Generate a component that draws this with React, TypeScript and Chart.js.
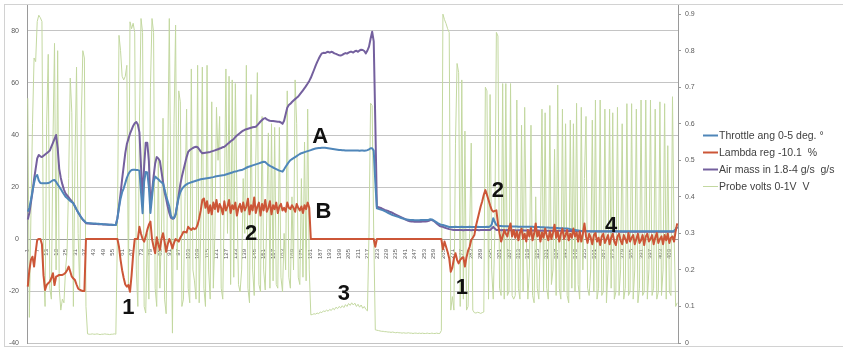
import { useEffect, useRef } from "react";
import { Chart, registerables } from "chart.js";

Chart.register(...registerables);

// ---- Series values (sample index 1..414) ----
const throttle = [
  10.5, 12, 15, 18.5, 21.5, 24, 24.6, 22.5, 21.5, 21.4,
  21.4, 21.4, 21.4, 21.5, 21.8, 22.2, 22.6, 22.7, 22, 21,
  20.1, 19.2, 18.2, 17.2, 16.3, 15.8, 15.2, 14.6, 14.2, 13.7,
  12.6, 11.4, 10.3, 9.3, 8.3, 7.5, 6.9, 6.3, 6.2, 6.1,
  6.1, 6, 6, 6, 5.9, 5.9, 5.8, 5.8, 5.7, 5.7,
  5.6, 5.6, 5.5, 5.5, 5.5, 5.4, 5.4, 8, 12, 15.5,
  18, 19.5, 21.5, 23.5, 25, 26, 26.5, 26.6, 26.6, 26.5,
  26.5, 26.3, 18, 9.9, 22, 25.8, 25.6, 20, 10, 16,
  22, 24, 23.5, 23, 22.3, 21.8, 21.4, 19, 16.5, 14.5,
  12.5, 9, 8, 8, 9.5, 13, 16, 18, 19.2, 20,
  20.6, 21, 21.4, 21.6, 21.8, 22, 22.2, 22.4, 22.6, 22.8,
  23, 23.1, 23.2, 23.3, 23.4, 23.5, 23.6, 23.7, 23.8, 24,
  24.1, 24.2, 24.3, 24.4, 24.5, 24.6, 24.8, 25, 25.2, 25.4,
  25.6, 25.8, 26, 26.1, 26.3, 26.4, 26.5, 26.8, 27.1, 27.4,
  27.7, 27.9, 28.1, 28.3, 28.5, 28.7, 28.9, 29.1, 29.3, 29.5,
  29.7, 29.6, 29, 28.5, 28.1, 27.8, 27.5, 27.2, 26.9, 26.6,
  26.3, 26.1, 25.9, 26.8, 27.8, 28.7, 29.6, 30.3, 30.7, 31.1,
  31.5, 31.9, 32.3, 32.7, 33, 33.2, 33.4, 33.6, 33.8, 34,
  34.2, 34.4, 34.6, 34.8, 34.9, 35, 35, 35.1, 35.1, 35.1,
  35, 34.9, 34.8, 34.7, 34.6, 34.5, 34.4, 34.3, 34.2, 34.2,
  34.1, 34.1, 34, 34, 34, 34, 34, 34, 34, 34,
  34, 33.9, 34, 34, 33.9, 34, 34.2, 34.5, 34.9, 34.9,
  34, 22, 11.8, 11.6, 11.4, 11.2, 11, 10.7, 10.4, 10.1,
  9.8, 9.5, 9.2, 9, 8.8, 8.6, 8.4, 8.2, 8, 7.8,
  7.6, 7.5, 7.4, 7.3, 7.3, 7.3, 7.2, 7.2, 7.2, 7.2,
  7.3, 7.3, 7.3, 7.3, 7.3, 7.4, 7.6, 7.5, 7.2, 6.8,
  6.4, 6, 5.7, 5.5, 5.4, 5.2, 5, 4.8, 4.6, 4.6,
  4.6, 4.6, 4.7, 4.6, 4.6, 4.6, 4.7, 4.6, 4.6, 4.6,
  4.6, 4.7, 4.6, 4.6, 4.6, 4.6, 4.7, 4.6, 4.6, 4.6,
  4.6, 4.6, 4.7, 4.6, 4.8, 5.5, 8, 6.5, 5.4, 5.1,
  5, 5, 4.9, 4.9, 4.9, 4.9, 4.8, 4.8, 4.8, 4.8,
  4.8, 4.8, 4.7, 4.7, 4.7, 4.7, 4.7, 4.7, 4.7, 4.7,
  4.7, 4.7, 4.6, 4.6, 4.6, 4.6, 4.5, 4.5, 4.5, 4.4,
  4.4, 4.4, 4.3, 4.3, 4.3, 4.2, 4.2, 4.2, 4.1, 4.1,
  4.1, 4, 4, 4, 3.9, 3.8, 3.7, 3.6, 3.5, 3.4,
  3.3, 3.2, 3.1, 3.1, 3.1, 3.1, 3, 3, 3, 3,
  3, 3, 3, 3, 3, 3, 3, 3, 3, 3,
  3, 3, 3, 3, 3, 3, 3, 3, 3, 3,
  3, 3, 3, 3, 3, 3, 3, 3, 3, 3,
  3, 3, 3, 3, 3, 3, 3, 3, 3, 3,
  3, 3, 3, 3, 3, 3, 3, 3, 3, 3,
  3, 3.1, 3.8, 4.7,
];

const lambda = [
  -18.3, -12, -8, -6.8, -10.6, -5, -0.3, 0, 0, -2,
  -14, -19.6, -17.7, -17, -16.4, -15, -13.2, -17.7, -14.5, -14.2,
  -13.8, -13.8, -13.8, -13.5, -13, -12, -10.6, -12.5, -14.5, -15.2,
  -15.8, -17.5, -19, -19.5, -19.8, -20, -20, 0, 0, 0,
  0, 0, 0, 0, 0, 0, 0, 0, 0, 0,
  0, 0, 0, 0, 0, 0, 0, 0, -3, -8,
  -12, -15, -17.5, -18.3, -17.7, -20.3, -14, -6, 0, 0,
  0, 4.7, 2, 0, -1, 1, 3.5, 5.5, 6.7, 0,
  -3, -5.5, 0.7, -2, -4.2, 0, 2.2, -1, -4.9, -2,
  0, -1.5, -3.6, -1.5, 0, -0.5, -1, 0.5, 1.5, 2.8,
  2.7, 2.5, 4.7, 4, 3.5, 4.2, 3.8, 4.1, 5.5, 8,
  11, 15, 15.6, 12, 14.5, 10, 13, 9.5, 14, 11.5,
  15, 10.5, 13.5, 12, 9.5, 14.5, 11, 12.5, 15, 10,
  13, 11.5, 14, 9, 12, 13.5, 10.5, 14, 11, 12.5,
  15.5, 9.5, 13, 11, 16, 10, 12.5, 14, 9, 13.5,
  11, 15, 10.5, 12, 14.5, 9.5, 13, 11.5, 14, 10,
  12.5, 13.5, 11, 12, 10.5, 14, 12, 11.5, 13, 12,
  10.5, 13.5, 12, 11, 12.5, 10, 13, 11.5, 14, 12,
  0, 0, 0, 0, 0, 0, 0, 0, 0, 0,
  0, 0, 0, 0, 0, 0, 0, 0, 0, 0,
  0, 0, 0, 0, 0, 0, 0, 0, 0, 0,
  0, 0, 0, 0, 0, 0, 0, 0, 0, 0,
  0, -3, 0, 0, 0, 0, 0, 0, 0, 0,
  0, 0, 0, 0, 0, 0, 0, 0, 0, 0,
  0, 0, 0, 0, 0, 0, 0, 0, 0, 0,
  0, 0, 0, 0, 0, 0, 0, 0, 0, 0,
  0, 0, 0, 0, -4, -1, -3, -5, -7.4, -12.6,
  -11, -7.5, -5.5, -8, -9.4, -8, -7.4, -7, -10.6, -7,
  -4.5, -3, -0.4, 0.5, 1.5, 5, 7.5, 10, 12.5, 14.5,
  17, 18.8, 17, 15, 13, 11.2, 10.5, 10.8, 11, 6,
  2.2, -1, 1, 3.5, 2, 1, 4, 6, 1, 3.5,
  0.5, 3, -0.5, 2.5, 4, 0, 2, -1, 3.5, 1,
  4.2, -0.5, 2, 6, 1, 3, -1, 2.5, 0.5, 4,
  1.5, -0.5, 3, 0, 2.5, 5.5, 0.5, 3, -1, 2,
  4, 0, 1.5, 3.5, -0.5, 2, 0.5, 4, 1, 2.5,
  -1, 3, -1, 2, 6, 1, -1.5, 2, 0.5, -2,
  1.5, 2.3, -1, 0.5, -2.3, 1, 2, -1.5, 0, 1.5,
  -2, 0.5, 2, -1, -2.3, 1, 2, -0.5, -2, 1.5,
  0, -1.5, 2.3, -1, 0.5, 1.5, -2, 0, 2, -1.5,
  -0.5, 1.5, -2.3, 1, 2, -1, 0, 1.5, -2, 0.5,
  2.3, -1.5, 0, 1, -2, 1.5, -0.5, 2, -1.5, 0.5,
  1, -1, 3, 6,
];

const airMass = [
  7.5, 10, 14, 18, 23, 27, 31, 32.3, 31.8, 31.5,
  32, 32.5, 33, 33.5, 34, 35.5, 37, 38.5, 40, 35,
  27, 23.5, 21, 19, 17.5, 16.8, 16, 15.2, 14.5, 13.7,
  12.5, 11.3, 10.2, 9.2, 8.2, 7.4, 6.8, 6.1, 6, 6,
  5.9, 5.9, 5.8, 5.8, 5.8, 5.7, 5.7, 5.7, 5.6, 5.6,
  5.6, 5.5, 5.5, 5.5, 5.4, 5.4, 5.4, 8, 12.5, 17.5,
  23, 28, 33, 36.5, 38.5, 40.5, 42, 43.5, 44.5, 45,
  44, 41, 28, 15, 28, 37, 37, 30, 13, 18,
  24, 29, 31.5, 31, 30, 26, 22, 18, 15.5, 12.5,
  10, 8.2, 7.8, 8, 9.5, 13, 17, 21, 24, 26.5,
  29, 31.5, 33.5, 34.2, 34.6, 35, 35.3, 35.5, 35.3, 34.5,
  33.6, 33, 33.1, 33.2, 33.3, 33.4, 33.5, 33.7, 33.9, 34.1,
  34.3, 34.5, 34.8, 35, 35.3, 35.5, 36, 36.5, 37, 37.6,
  38, 38.5, 39.2, 39.8, 40.3, 40.8, 41.3, 41.7, 42, 42.2,
  42.4, 42.6, 42.8, 43, 43.1, 43.2, 43.8, 44.5, 45.2, 45.8,
  46.3, 46.5, 46, 45.7, 45.5, 45.4, 45.4, 45.3, 45.2, 45.1,
  45.1, 44.8, 44.3, 45.5, 48, 50.5, 51.5, 52, 52.7, 53.3,
  53.8, 54.3, 54.8, 55.6, 56.4, 57.2, 58, 58.9, 59.8, 60.8,
  62, 63.5, 65, 66.6, 68, 69.3, 70.5, 71.4, 71.6, 71.5,
  71.8, 72, 71.7, 72, 71.8, 71.4, 71.2, 70.9, 70.7, 70.6,
  70.8, 71.2, 71.5, 71.3, 71.7, 72, 72, 71.7, 72.2, 72.4,
  72, 72.5, 72.8, 72.7, 72.3, 71.4, 72.5, 74, 77, 79.7,
  76, 45, 12.4, 12.2, 12, 11.8, 11.5, 11.2, 11, 10.8,
  10.5, 10.3, 10, 9.7, 9.4, 9.1, 8.8, 8.5, 8.2, 7.9,
  7.6, 7.3, 7, 6.8, 6.7, 6.7, 6.6, 6.6, 6.6, 6.6,
  6.6, 6.7, 6.7, 6.7, 6.8, 7, 7.3, 7.3, 7, 6.5,
  6, 5.5, 5, 4.8, 4.7, 4.4, 4.2, 4, 3.8, 3.7,
  3.6, 3.5, 3.5, 3.5, 3.5, 3.5, 3.5, 3.4, 3.5, 3.5,
  3.5, 3.5, 3.4, 3.5, 3.5, 3.5, 3.5, 3.4, 3.5, 3.5,
  3.5, 3.5, 3.5, 3.5, 3.5, 4, 4.7, 4, 3.5, 3.5,
  3.5, 3.4, 3.5, 3.4, 3.4, 3.5, 3.4, 3.4, 3.4, 3.4,
  3.4, 3.3, 3.4, 3.4, 3.3, 3.4, 3.3, 3.3, 3.4, 3.3,
  3.3, 3.3, 3.3, 3.2, 3.3, 3.3, 3.2, 3.3, 3.2, 3.2,
  3.2, 3.2, 3.2, 3.2, 3.2, 3.2, 3.2, 3.2, 3.2, 3.2,
  3.2, 3.2, 3.2, 3.2, 3.1, 3.1, 3.1, 3.1, 3.1, 3,
  3, 3, 3, 3, 3, 3, 3, 3, 2.9, 2.9,
  2.9, 2.9, 2.9, 2.9, 2.9, 2.9, 2.9, 2.9, 2.9, 2.9,
  2.9, 2.9, 2.9, 2.8, 2.9, 2.9, 2.8, 2.9, 2.8, 2.8,
  2.8, 2.8, 2.8, 2.8, 2.8, 2.8, 2.8, 2.8, 2.8, 2.8,
  2.8, 2.8, 2.8, 2.8, 2.8, 2.8, 2.8, 2.8, 2.8, 2.8,
  2.8, 2.8, 2.8, 2.8, 2.8, 2.8, 2.8, 2.8, 2.8, 2.8,
  2.8, 2.9, 3.5, 4.7,
];

const probeVolts = [
  0.67, 0.07, 0.35, 0.6, 0.78, 0.77, 0.88, 0.897, 0.89, 0.88,
  0.2, 0.1, 0.6, 0.79, 0.15, 0.12, 0.55, 0.82, 0.2, 0.8,
  0.15, 0.09, 0.12, 0.11, 0.2, 0.25, 0.45, 0.725, 0.63, 0.1,
  0.5, 0.755, 0.3, 0.15, 0.6, 0.8, 0.78, 0.1, 0.025, 0.024,
  0.024, 0.025, 0.024, 0.024, 0.025, 0.024, 0.023, 0.024, 0.024, 0.025,
  0.024, 0.024, 0.023, 0.024, 0.024, 0.025, 0.024, 0.3, 0.842, 0.8,
  0.73, 0.72, 0.73, 0.76, 0.15, 0.879, 0.86, 0.875, 0.85, 0.2,
  0.1, 0.6, 0.888, 0.85, 0.1, 0.082, 0.3, 0.12, 0.7, 0.888,
  0.85, 0.15, 0.1, 0.5, 0.15, 0.3, 0.615, 0.12, 0.08, 0.5,
  0.888, 0.4, 0.027, 0.6, 0.87, 0.2, 0.69, 0.66, 0.1, 0.12,
  0.4, 0.64, 0.15, 0.11, 0.75, 0.2, 0.17, 0.12, 0.76, 0.11,
  0.3, 0.755, 0.15, 0.1, 0.76, 0.2, 0.12, 0.66, 0.15, 0.3,
  0.645, 0.5, 0.62, 0.15, 0.12, 0.4, 0.75, 0.3, 0.73, 0.16,
  0.72, 0.18, 0.71, 0.4, 0.16, 0.14, 0.2, 0.45, 0.3, 0.76,
  0.15, 0.11, 0.68, 0.2, 0.13, 0.5, 0.74, 0.16, 0.14, 0.62,
  0.2, 0.145, 0.35, 0.575, 0.15, 0.6, 0.17, 0.59, 0.16, 0.15,
  0.59, 0.18, 0.14, 0.3, 0.2, 0.69, 0.18, 0.15, 0.4, 0.2,
  0.72, 0.6, 0.18, 0.16, 0.45, 0.18, 0.55, 0.17, 0.64, 0.2,
  0.077, 0.078, 0.08, 0.079, 0.082, 0.08, 0.085, 0.083, 0.088, 0.086,
  0.09, 0.087, 0.092, 0.089, 0.095, 0.091, 0.098, 0.094, 0.1, 0.096,
  0.102, 0.097, 0.105, 0.1, 0.108, 0.103, 0.11, 0.104, 0.109, 0.1,
  0.106, 0.098, 0.104, 0.095, 0.1, 0.092, 0.088, 0.3, 0.656, 0.65,
  0.3, 0.036, 0.035, 0.034, 0.033, 0.032, 0.032, 0.031, 0.031, 0.03,
  0.03, 0.029, 0.03, 0.029, 0.028, 0.029, 0.028, 0.028, 0.027, 0.028,
  0.027, 0.027, 0.028, 0.027, 0.027, 0.026, 0.027, 0.027, 0.026, 0.027,
  0.026, 0.027, 0.026, 0.026, 0.027, 0.026, 0.026, 0.027, 0.026, 0.026,
  0.027, 0.026, 0.026, 0.034, 0.9, 0.885, 0.874, 0.86, 0.85, 0.09,
  0.127, 0.09, 0.547, 0.765, 0.74, 0.1, 0.72, 0.12, 0.58, 0.09,
  0.1, 0.3, 0.547, 0.09, 0.083, 0.082, 0.084, 0.083, 0.081, 0.083,
  0.085, 0.7, 0.69, 0.12, 0.68, 0.2, 0.12, 0.3, 0.85, 0.84,
  0.15, 0.13, 0.71, 0.12, 0.71, 0.13, 0.14, 0.71, 0.13, 0.12,
  0.13, 0.665, 0.15, 0.12, 0.596, 0.14, 0.645, 0.3, 0.12, 0.2,
  0.596, 0.13, 0.11, 0.4, 0.15, 0.12, 0.3, 0.64, 0.14, 0.63,
  0.15, 0.12, 0.65, 0.16, 0.2, 0.53, 0.13, 0.706, 0.15, 0.12,
  0.64, 0.14, 0.6, 0.13, 0.11, 0.61, 0.15, 0.6, 0.14, 0.656,
  0.16, 0.12, 0.645, 0.2, 0.45, 0.62, 0.15, 0.13, 0.2, 0.61,
  0.14, 0.665, 0.12, 0.15, 0.665, 0.13, 0.14, 0.64, 0.11, 0.2,
  0.64, 0.15, 0.63, 0.12, 0.14, 0.645, 0.13, 0.2, 0.6, 0.12,
  0.15, 0.655, 0.13, 0.14, 0.655, 0.12, 0.2, 0.64, 0.11, 0.15,
  0.665, 0.13, 0.14, 0.665, 0.12, 0.2, 0.665, 0.13, 0.15, 0.64,
  0.12, 0.14, 0.66, 0.13, 0.2, 0.655, 0.12, 0.54, 0.14, 0.13,
  0.674, 0.3, 0.1, 0.11,
];

// sample numbers on the category axis (1..N), labelled every 6th
const categories = throttle.map((_, i) => String(i + 1));
const LABEL_EVERY = 6;

const seriesLabels = [
  "Throttle ang 0-5 deg. \u00b0",
  "Lambda reg -10.1  %",
  "Air mass in 1.8-4 g/s  g/s",
  "Probe volts 0-1V  V",
];

// left axis
const leftMin = -40;
const leftMax = 90;
const leftStep = 20;
// right axis
const rightMin = 0;
const rightMax = 0.925;
const rightStep = 0.1;

// hand-drawn markers: sample number, left-axis value
const markers = [
  { text: "1", sample: 65, value: -26.7 },
  { text: "2", sample: 143, value: 1.8 },
  { text: "A", sample: 187, value: 39.4 },
  { text: "B", sample: 189, value: 10.6 },
  { text: "3", sample: 202, value: -21.2 },
  { text: "1", sample: 277, value: -19 },
  { text: "2", sample: 300, value: 18.4 },
  { text: "4", sample: 372, value: 5 },
];

const FONT = "'Liberation Sans', Arial, sans-serif";

const markerPlugin = {
  id: "markers",
  afterDatasetsDraw(chart: any) {
    const { ctx, scales } = chart;
    ctx.save();
    ctx.font = `bold 22px ${FONT}`;
    ctx.fillStyle = "#111";
    ctx.textAlign = "center";
    ctx.textBaseline = "middle";
    markers.forEach((m) => {
      const x = scales.x.getPixelForValue(m.sample - 1);
      const y = scales.y.getPixelForValue(m.value);
      ctx.fillText(m.text, x, y);
    });
    ctx.restore();
  },
};

const sideLegendPlugin = {
  id: "sideLegend",
  afterDraw(chart: any) {
    const { ctx, chartArea } = chart;
    const x0 = chartArea.right + 25;
    const top = 135;
    const rowH = 17;
    ctx.save();
    chart.data.datasets.forEach((ds: any, k: number) => {
      const y = top + k * rowH;
      ctx.strokeStyle = ds.borderColor;
      ctx.lineWidth = ds.borderWidth;
      ctx.beginPath();
      ctx.moveTo(x0, y + 0.5);
      ctx.lineTo(x0 + 15, y + 0.5);
      ctx.stroke();
      ctx.fillStyle = "#404040";
      ctx.font = `10.5px ${FONT}`;
      ctx.textAlign = "left";
      ctx.textBaseline = "middle";
      ctx.fillText(ds.label, x0 + 16, y + 1);
    });
    ctx.restore();
  },
};

export default function App() {
  const ref = useRef<HTMLCanvasElement | null>(null);

  useEffect(() => {
    if (!ref.current) return;
    const chart = new Chart(ref.current, {
      type: "line",
      data: {
        labels: categories,
        datasets: [
          {
            label: seriesLabels[0],
            data: throttle,
            borderColor: "#4f86b9",
            borderWidth: 2,
            yAxisID: "y",
            order: 2,
          },
          {
            label: seriesLabels[1],
            data: lambda,
            borderColor: "#cc5637",
            borderWidth: 2,
            yAxisID: "y",
            order: 1,
          },
          {
            label: seriesLabels[2],
            data: airMass,
            borderColor: "#74609e",
            borderWidth: 2,
            yAxisID: "y",
            order: 3,
          },
          {
            label: seriesLabels[3],
            data: probeVolts,
            borderColor: "#c3d8a0",
            borderWidth: 1,
            yAxisID: "y1",
            order: 4,
          },
        ],
      },
      options: {
        animation: false,
        responsive: false,
        devicePixelRatio: 1,
        events: [],
        elements: {
          point: { radius: 0 },
          line: { tension: 0, borderJoinStyle: "round" },
        },
        layout: { padding: { left: 0, right: 0, top: 5, bottom: 5 } },
        plugins: {
          legend: { display: false },
          tooltip: { enabled: false },
        },
        scales: {
          x: {
            type: "category",
            position: { y: 0 } as any,
            offset: true,
            grid: { display: false },
            border: { display: true, color: "#9a9a9a", width: 1 },
            ticks: {
              autoSkip: false,
              maxRotation: 90,
              minRotation: 90,
              padding: 2,
              color: "#595959",
              font: { family: FONT, size: 6 },
              callback: (_v: any, i: number) => (i % LABEL_EVERY === 0 ? categories[i] : ""),
            },
          },
          y: {
            type: "linear",
            position: "left",
            min: leftMin,
            max: leftMax,
            ticks: {
              stepSize: leftStep,
              includeBounds: false,
              padding: 8,
              color: "#595959",
              font: { family: FONT, size: 7 },
            },
            grid: { color: "#c4c4c4", drawTicks: false },
            border: { display: true, color: "#9a9a9a" },
            afterFit: (s: any) => {
              s.width = 27;
              s.paddingTop = 0;
              s.paddingBottom = 0;
            },
          },
          y1: {
            type: "linear",
            position: "right",
            min: rightMin,
            max: rightMax,
            ticks: {
              stepSize: rightStep,
              includeBounds: false,
              padding: 4,
              color: "#595959",
              font: { family: FONT, size: 7 },
            },
            grid: { drawOnChartArea: false, drawTicks: true, tickLength: 3, color: "#9a9a9a" },
            border: { display: true, color: "#9a9a9a" },
            afterFit: (s: any) => {
              s.width = 165;
              s.paddingTop = 0;
              s.paddingBottom = 0;
            },
          },
        },
      },
      plugins: [markerPlugin, sideLegendPlugin],
    } as any);
    return () => chart.destroy();
  }, []);

  return (
    <div
      style={{
        position: "fixed",
        left: 0,
        top: 0,
        width: 843,
        height: 348,
        background: "#ffffff",
        overflow: "hidden",
      }}
    >
      <div
        style={{
          position: "absolute",
          left: 4,
          top: 4,
          width: 860,
          height: 341,
          border: "1px solid #d2d2d2",
        }}
      />
      <canvas
        ref={ref}
        width={843}
        height={348}
        style={{ position: "absolute", left: 0, top: 0, width: 843, height: 348 }}
      />
    </div>
  );
}
